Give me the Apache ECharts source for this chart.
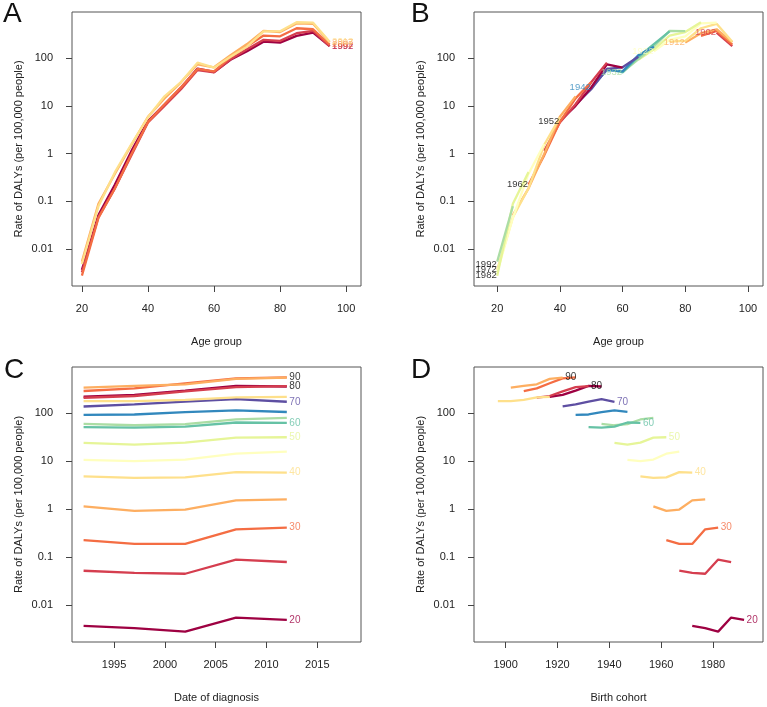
<!DOCTYPE html>
<html><head><meta charset="utf-8">
<script src="https://cdn.jsdelivr.net/npm/echarts@6/dist/echarts.min.js"></script>
<style>html,body{margin:0;padding:0;background:#fff}#c{width:767px;height:707px}</style>
</head><body><div id="c"></div>
<script>
// ---- data ----
const ages = [20,25,30,35,40,45,50,55,60,65,70,75,80,85,90,95];
const periods = [1992,1997,2002,2007,2012];
const cohorts = [1897,1902,1907,1912,1917,1922,1927,1932,1937,1942,1947,1952,1957,1962,1967,1972,1977,1982,1987,1992];
// DALY rate per 100,000 by age group, one array per period
const rate1992 = [0.0037,0.052,0.225,1.14,4.8,10.6,24,60,51,92,138,220,210,290,340,178];
const rate1997 = [0.0033,0.047,0.188,0.92,4.5,10.0,22.2,56,50,94,152,240,228,330,370,178];
const rate2002 = [0.0028,0.045,0.188,0.98,4.6,10.8,24.3,59,52.6,105,175,295,285,420,400,190];
const rate2007 = [0.0055,0.089,0.38,1.52,5.9,14.3,31,74,64,114,196,370,350,530,520,213];
const rate2012 = [0.0049,0.079,0.41,1.59,5.75,15.8,31.5,80,63,106,173,360,365,560,550,219];
const labelledAges = [20,30,40,50,60,70,80,90];
const labelledCohorts = [1902,1912,1922,1932,1942,1952,1962,1972,1982,1992];
const ageTicks = [20,40,60,80,100];
const periodTicks = [1995,2000,2005,2010,2015];
const cohortTicks = [1900,1920,1940,1960,1980];
const rateTicks = [0.01,0.1,1,10,100];
const rateTickLabels = ['0.01','0.1','1','10','100'];

// ---- styling ----
const pal = ['#9E0142','#D53E4F','#F46D43','#FDAE61','#FEE08B','#FFFFBF','#E6F598','#ABDDA4','#66C2A5','#3288BD','#5E4FA2'];
const FONT = '"Liberation Sans", Arial, Helvetica, sans-serif';
const rateByPeriod = [rate1992, rate1997, rate2002, rate2007, rate2012];
const rate = (ai, pi) => rateByPeriod[pi][ai];
const lineColor = i => pal[i % pal.length];
const labelColor = i => i < pal.length ? pal[i] : '#000';

const grids = [
  {left:72, top:12, width:289, height:274},
  {left:474, top:12, width:289, height:274},
  {left:72, top:367, width:289, height:275},
  {left:474, top:367, width:289, height:275}
].map(g => Object.assign(g, {show:true, borderColor:'#555', borderWidth:1, backgroundColor:'transparent'}));

function xAxis(gi, min, max, ticks, name) {
  return {
    type:'value', gridIndex:gi, min:min, max:max,
    axisLine:{show:false, onZero:false}, splitLine:{show:false},
    axisTick:{show:true, inside:false, length:6, lineStyle:{color:'#444', width:1}, customValues:ticks},
    axisLabel:{customValues:ticks, margin:17, fontSize:11, color:'#222', fontFamily:FONT, formatter: v => String(v)},
    name:name, nameLocation:'middle', nameGap:50,
    nameTextStyle:{fontSize:11, color:'#222', fontFamily:FONT}
  };
}
function yAxis(gi) {
  return {
    type:'log', logBase:10, gridIndex:gi, min:0.0017, max:918,
    axisLine:{show:false, onZero:false}, splitLine:{show:false}, minorTick:{show:false},
    axisTick:{show:true, inside:false, length:6, lineStyle:{color:'#444', width:1}, customValues:rateTicks},
    axisLabel:{customValues:rateTicks, margin:19, fontSize:11, color:'#222', fontFamily:FONT,
      formatter: v => {
        let best = 0;
        rateTicks.forEach((t, i) => { if (Math.abs(Math.log10(t) - Math.log10(v)) < Math.abs(Math.log10(rateTicks[best]) - Math.log10(v))) best = i; });
        return rateTickLabels[best];
      }},
    name:'Rate of DALYs (per 100,000 people)', nameLocation:'middle', nameGap:48,
    nameTextStyle:{fontSize:11, color:'#222', fontFamily:FONT}
  };
}

const series = [];
function line(gi, data, color) {
  series.push({type:'line', xAxisIndex:gi, yAxisIndex:gi, data:data, symbol:'none',
    lineStyle:{color:color, width:2.3}, silent:true, animation:false, z:2});
}
function labels(gi, data, position, distance, size) {
  series.push({type:'scatter', xAxisIndex:gi, yAxisIndex:gi, data:data, symbol:'circle', symbolSize:1,
    itemStyle:{color:'rgba(0,0,0,0)'}, silent:true, animation:false, z:5,
    label:{show:true, position:position, distance:distance, formatter:'{b}', fontSize:size, fontFamily:FONT}});
}

// A: period lines across age
periods.forEach((p, pi) => line(0, ages.map((a, ai) => [a, rate(ai, pi)]), lineColor(pi)));
labels(0, periods.map((p, pi) => ({name:String(p), value:[ages[ages.length-1], rate(ages.length-1, pi)],
  label:{color:labelColor(pi)}})), 'right', 2, 9.5);

// B: cohort lines across age
function cohortPoints(c) {
  const pts = [];
  periods.forEach((p, pi) => { const ai = ages.indexOf(p - c); if (ai >= 0) pts.push([ages[ai], rate(ai, pi)]); });
  return pts;
}
cohorts.forEach((c, ci) => line(1, cohortPoints(c), lineColor(ci)));
labels(1, labelledCohorts.map(c => {
  const ci = cohorts.indexOf(c); const first = cohortPoints(c)[0];
  return {name:String(c), value:first, label:{color:labelColor(ci)}};
}), 'left', 0, 9.5);

// C: age lines across period
ages.forEach((a, ai) => line(2, periods.map((p, pi) => [p, rate(ai, pi)]), lineColor(ai)));
labels(2, labelledAges.map(a => {
  const ai = ages.indexOf(a);
  return {name:String(a), value:[periods[periods.length-1], rate(ai, periods.length-1)], label:{color:labelColor(ai)}};
}), 'right', 2, 10);

// D: age lines across birth cohort
ages.forEach((a, ai) => line(3, periods.map((p, pi) => [p - a, rate(ai, pi)]), lineColor(ai)));
labels(3, labelledAges.map(a => {
  const ai = ages.indexOf(a);
  return {name:String(a), value:[periods[periods.length-1] - a, rate(ai, periods.length-1)], label:{color:labelColor(ai)}};
}), 'right', 2, 10);

const letter = (t, x, y) => ({type:'text', left:x, top:y, silent:true,
  style:{text:t, fontSize:28, fontFamily:FONT, fill:'#111'}});

const option = {
  backgroundColor:'#fff',
  animation:false,
  grid: grids,
  xAxis: [
    xAxis(0, 17, 104.5, ageTicks, 'Age group'),
    xAxis(1, 12.6, 104.8, ageTicks, 'Age group'),
    xAxis(2, 1990.86, 2019.3, periodTicks, 'Date of diagnosis'),
    xAxis(3, 1887.8, 1999.3, cohortTicks, 'Birth cohort')
  ],
  yAxis: [yAxis(0), yAxis(1), yAxis(2), yAxis(3)],
  series: series,
  graphic: [letter('A', 3, 0), letter('B', 411, 0), letter('C', 4, 356), letter('D', 411, 356)]
};
const chart = echarts.init(document.getElementById('c'), null, {renderer:'canvas'});
chart.setOption(option);
</script></body></html>
